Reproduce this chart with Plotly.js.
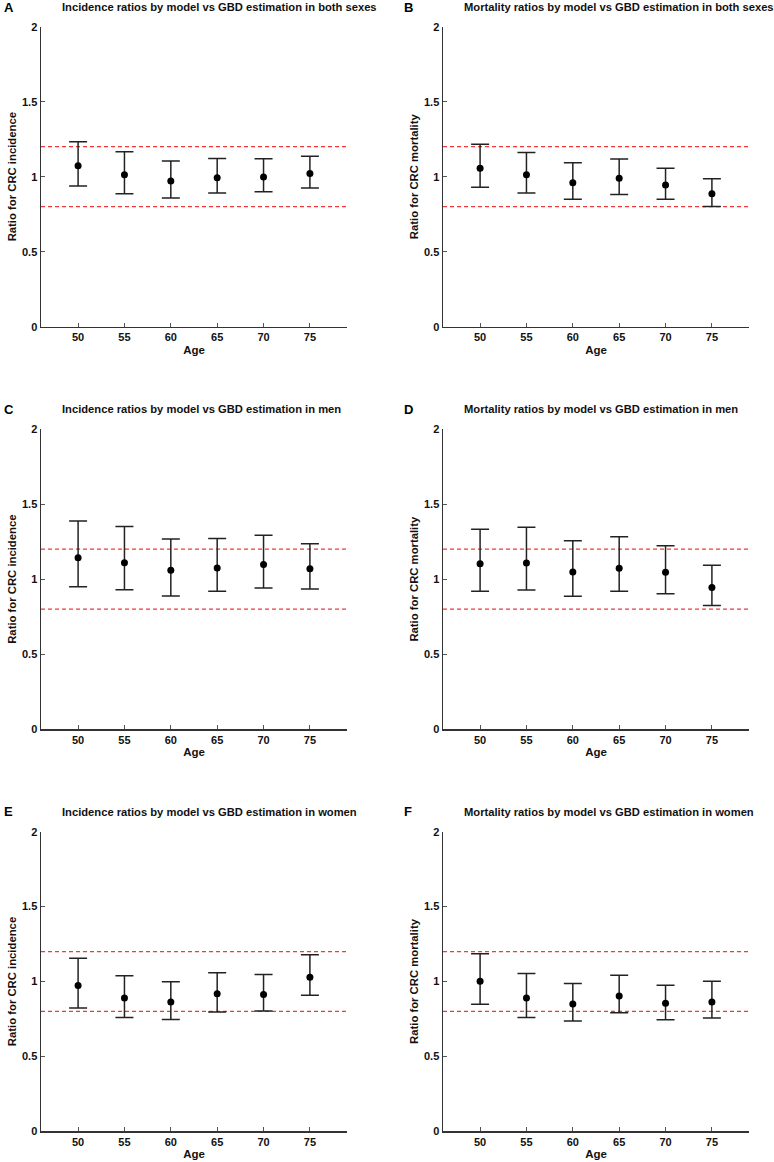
<!DOCTYPE html>
<html>
<head>
<meta charset="utf-8">
<script src="https://cdn.plot.ly/plotly-3.0.1.min.js"></script>
<style>html,body{margin:0;padding:0;background:#fff;}#chart{width:774px;height:1162px;}</style>
</head>
<body>
<div id="chart"></div>
<script>
// ---- Data ----
const ages = [50, 55, 60, 65, 70, 75];
const refLines = [0.8, 1.2];

const panelLetters = ["A", "B", "C", "D", "E", "F"];
const panelTitles = [
  "Incidence ratios by model vs GBD estimation in both sexes",
  "Mortality ratios by model vs GBD estimation in both sexes",
  "Incidence ratios by model vs GBD estimation in men",
  "Mortality ratios by model vs GBD estimation in men",
  "Incidence ratios by model vs GBD estimation in women",
  "Mortality ratios by model vs GBD estimation in women"
];
const yTitles = [
  "Ratio for CRC incidence", "Ratio for CRC mortality",
  "Ratio for CRC incidence", "Ratio for CRC mortality",
  "Ratio for CRC incidence", "Ratio for CRC mortality"
];
const xTitle = "Age";
const yTickVals = [0, 0.5, 1, 1.5, 2];
const yTickText = ["0", "0.5", "1", "1.5", "2"];

// A: incidence, both sexes
const incBothRatio = [1.073, 1.013, 0.971, 0.993, 0.998, 1.022];
const incBothUpper = [1.233, 1.167, 1.104, 1.122, 1.120, 1.136];
const incBothLower = [0.938, 0.887, 0.858, 0.891, 0.900, 0.924];
// B: mortality, both sexes
const morBothRatio = [1.056, 1.013, 0.960, 0.989, 0.944, 0.887];
const morBothUpper = [1.216, 1.162, 1.093, 1.118, 1.056, 0.987];
const morBothLower = [0.929, 0.891, 0.849, 0.882, 0.849, 0.802];
// C: incidence, men
const incMenRatio = [1.143, 1.110, 1.059, 1.074, 1.097, 1.070];
const incMenUpper = [1.387, 1.350, 1.267, 1.270, 1.292, 1.236];
const incMenLower = [0.950, 0.930, 0.888, 0.919, 0.941, 0.934];
// D: mortality, men
const morMenRatio = [1.103, 1.108, 1.048, 1.072, 1.046, 0.944];
const morMenUpper = [1.332, 1.345, 1.256, 1.283, 1.223, 1.092];
const morMenLower = [0.919, 0.928, 0.886, 0.919, 0.903, 0.824];
// E: incidence, women
const incWomenRatio = [0.974, 0.890, 0.863, 0.919, 0.914, 1.028];
const incWomenUpper = [1.155, 1.039, 0.999, 1.059, 1.046, 1.179];
const incWomenLower = [0.823, 0.759, 0.747, 0.796, 0.803, 0.908];
// F: mortality, women
const morWomenRatio = [1.001, 0.890, 0.850, 0.903, 0.854, 0.863];
const morWomenUpper = [1.186, 1.054, 0.986, 1.041, 0.975, 1.001];
const morWomenLower = [0.848, 0.759, 0.736, 0.792, 0.745, 0.756];

const panels = [
  [incBothRatio, incBothUpper, incBothLower],
  [morBothRatio, morBothUpper, morBothLower],
  [incMenRatio, incMenUpper, incMenLower],
  [morMenRatio, morMenUpper, morMenLower],
  [incWomenRatio, incWomenUpper, incWomenLower],
  [morWomenRatio, morWomenUpper, morWomenLower]
];

// ---- Layout geometry (pixels) ----
const W = 774, H = 1162;
const colPx = [[41, 347], [443, 749]];
const rowPx = [[26.7, 326.7], [429, 729.3], [831.7, 1131.3]];
const titleLeftPx = [60, 462];
const titleYPx = [7.5, 409.5, 811.5];
const letterXPx = [2, 402];

const FONT = "Liberation Sans, Arial, sans-serif";
const px2x = p => p / W;
const px2y = p => 1 - p / H;

const data = [];
const layout = {
  width: W, height: H,
  margin: {l: 0, r: 0, t: 0, b: 0},
  paper_bgcolor: "#fff", plot_bgcolor: "#fff",
  showlegend: false,
  font: {family: FONT, size: 11, color: "#111"},
  shapes: [], annotations: []
};

panels.forEach((p, i) => {
  const row = Math.floor(i / 2), col = i % 2;
  const n = i + 1;
  const xa = "xaxis" + (n === 1 ? "" : n), ya = "yaxis" + (n === 1 ? "" : n);
  const xr = "x" + (n === 1 ? "" : n), yr = "y" + (n === 1 ? "" : n);
  const [ratio, up, lo] = p;

  data.push({
    type: "scatter", mode: "markers",
    x: ages, y: ratio, xaxis: xr, yaxis: yr,
    marker: {color: "#000", size: 7},
    error_y: {
      type: "data", symmetric: false,
      array: up.map((u, k) => u - ratio[k]),
      arrayminus: lo.map((l, k) => ratio[k] - l),
      color: "#222", thickness: 1.5, width: 9
    },
    hoverinfo: "x+y"
  });

  layout[xa] = {
    domain: [px2x(colPx[col][0]), px2x(colPx[col][1])],
    anchor: yr, range: [46, 79],
    tickvals: ages, ticktext: ages.map(String),
    ticks: "inside", ticklen: 4, tickwidth: 1, tickcolor: "#555",
    showline: true, linecolor: "#333", linewidth: 1.5,
    showgrid: false, zeroline: false, automargin: false,
    tickfont: {family: FONT, size: 11, weight: "bold", color: "#111"},
    title: {text: xTitle, standoff: 3, font: {family: FONT, size: 11.5, weight: "bold", color: "#111"}},
    fixedrange: true
  };
  layout[ya] = {
    domain: [px2y(rowPx[row][1]), px2y(rowPx[row][0])],
    anchor: xr, range: [0, 2],
    tickvals: yTickVals, ticktext: yTickText,
    ticks: "inside", ticklen: 4, tickwidth: 1, tickcolor: "#555",
    showline: true, linecolor: "#333", linewidth: 1.5,
    showgrid: false, zeroline: false, automargin: false,
    tickfont: {family: FONT, size: 11, weight: "bold", color: "#111"},
    title: {text: yTitles[i], standoff: 3, font: {family: FONT, size: 11.3, weight: "bold", color: "#111"}},
    fixedrange: true
  };

  refLines.forEach(v => {
    layout.shapes.push({
      type: "line", xref: xr + " domain", yref: yr,
      x0: 0, x1: 1, y0: v, y1: v,
      line: {color: "#f03a3a", width: 1.3, dash: "4px,3px"},
      layer: "below"
    });
  });

  layout.annotations.push({
    xref: "paper", yref: "paper",
    x: px2x(titleLeftPx[col]), y: px2y(titleYPx[row]),
    xanchor: "left", yanchor: "middle", showarrow: false,
    text: panelTitles[i],
    font: {family: FONT, size: 11.2, weight: "bold", color: "#111"}
  });
  layout.annotations.push({
    xref: "paper", yref: "paper",
    x: px2x(letterXPx[col]), y: px2y(titleYPx[row]),
    xanchor: "left", yanchor: "middle", showarrow: false,
    text: panelLetters[i],
    font: {family: FONT, size: 13, weight: "bold", color: "#000"}
  });
});

Plotly.newPlot("chart", data, layout, {displayModeBar: false, staticPlot: true});
</script>
</body>
</html>
